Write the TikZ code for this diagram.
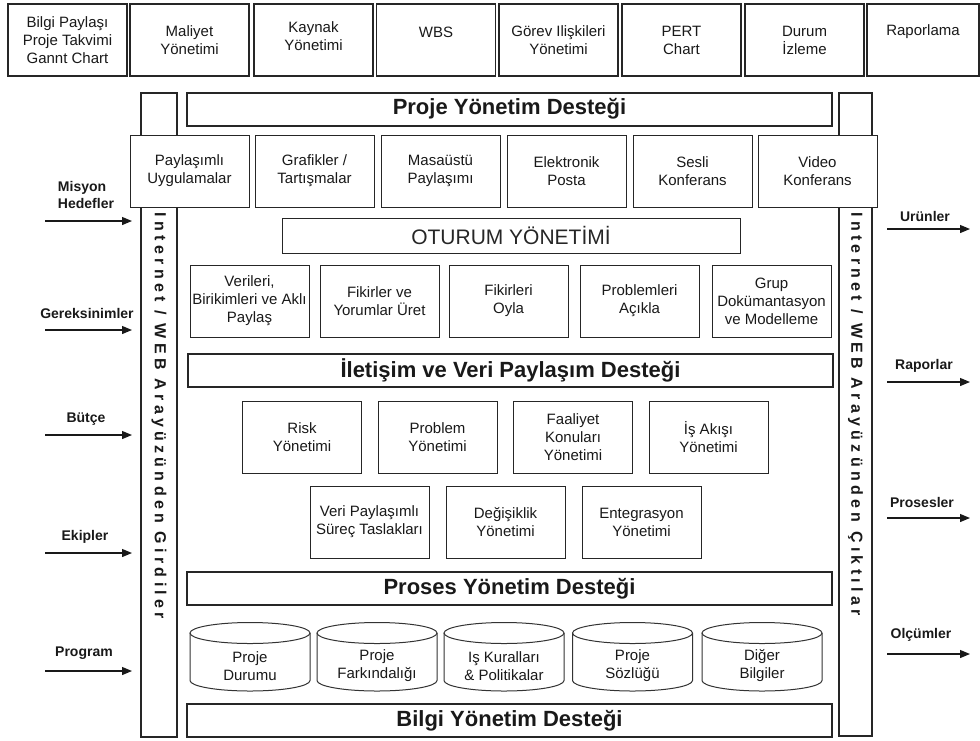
\documentclass[tikz,border=0pt]{standalone}
\usepackage{fontspec}
\setmainfont{Liberation Sans}
\newfontfamily\vfont{Liberation Sans}[LetterSpace=27]
\usetikzlibrary{arrows.meta}
\newcommand{\smallfs}{\fontsize{15}{18}\selectfont}
\newcommand{\barfs}{\bfseries\fontsize{22}{24}\selectfont}
\newcommand{\lblfs}{\bfseries\fontsize{14}{17}\selectfont}
\tikzset{
  box/.style={draw=black!85, line width=1pt, fill=white, minimum width=119pt, minimum height=72pt, align=center, font=\smallfs, inner sep=0pt, text=black!90},
  topbox/.style={box, line width=1.3pt},
  boxtext/.style={font=\smallfs, align=center, inner sep=0pt, text=black!90},
  bandbar/.style={draw=black!85, line width=2pt, fill=white, minimum width=645pt, minimum height=33pt, inner sep=0pt, font=\barfs, text=black!90},
  sidebar/.style={draw=black!85, line width=1.6pt, fill=white},
  vtext/.style={rotate=-90, font=\vfont\bfseries\fontsize{16}{16}\selectfont, text=black!90},
  lbl/.style={font=\lblfs, align=left, text=black!90, inner sep=0pt},
  arr/.style={line width=1.2pt, draw=black!90, -{Triangle[length=10pt,width=8pt]}},
  cyl/.style={draw=black!80, line width=1pt},
  cyltext/.style={font=\smallfs, align=center, text=black!90}
}
\begin{document}
\begin{tikzpicture}[x=1pt,y=-1pt]
\useasboundingbox (0,0) rectangle (980,740);
% top row
\node[topbox] (t1) at (67.5,40) {Bilgi Paylaşı\\Proje Takvimi\\Gannt Chart};
\node[topbox] (t2) at (189.5,40) {Maliyet\\Yönetimi};
\node[topbox] (t3) at (313.5,40) {};
\node[boxtext] (t3t) at (313.5,36) {Kaynak\\Yönetimi};
\node[topbox] (t4) at (436,40) {};
\node[boxtext] (t4t) at (436,32) {WBS};
\node[topbox] (t5) at (558.5,40) {Görev Ilişkileri\\Yönetimi};
\node[topbox] (t6) at (681.5,40) {PERT\\Chart};
\node[topbox] (t7) at (804.5,40) {Durum\\İzleme};
\node[topbox, minimum width=112pt] (t8) at (923,40) {};
\node[boxtext] (t8t) at (923,32) {Raporlama};
% side bars
\draw[sidebar] (141,93) rectangle (177,737);
\draw[sidebar] (839,93) rectangle (872,736);
% band bars
\node[bandbar] (pyd) at (509.5,109) {Proje Yönetim Desteği};
\node[bandbar] (ivp) at (510.5,370.5) {İletişim ve Veri Paylaşım Desteği};
\node[bandbar] (pro) at (509.5,588.5) {Proses Yönetim Desteği};
\node[bandbar] (bil) at (509.5,720.5) {Bilgi Yönetim Desteği};
% row 2
\node[box] (p1) at (189.5,171) {Paylaşımlı\\Uygulamalar};
\node[box] (p2) at (314.5,171) {Grafikler /\\Tartışmalar};
\node[box] (p3) at (440.5,171) {Masaüstü\\Paylaşımı};
\node[box] (p4) at (566.5,171) {Elektronik\\Posta};
\node[box] (p5) at (692.5,171) {Sesli\\Konferans};
\node[box] (p6) at (817.5,171) {Video\\Konferans};
% oturum
\node[draw=black!85, line width=1pt, minimum width=458pt, minimum height=35pt, inner sep=0pt, font=\fontsize{21}{24}\selectfont, text=black!85] (otu) at (511,235.5) {OTURUM YÖNETİMİ};
% row 3
\node[box] (r1) at (249.5,301) {Verileri,\\Birikimleri ve Aklı\\Paylaş};
\node[box] (r2) at (379.5,301) {Fikirler ve\\Yorumlar Üret};
\node[box] (r3) at (508.5,301) {Fikirleri\\Oyla};
\node[box] (r4) at (639.5,301) {Problemleri\\Açıkla};
\node[box] (r5) at (771.5,301) {Grup\\Dokümantasyon\\ve Modelleme};
% row 4
\node[box] (s1) at (302,437) {Risk\\Yönetimi};
\node[box] (s2) at (437.5,437) {Problem\\Yönetimi};
\node[box] (s3) at (573,437) {Faaliyet\\Konuları\\Yönetimi};
\node[box] (s4) at (708.5,437) {İş Akışı\\Yönetimi};
% row 5
\node[box] (u1) at (369.5,522) {Veri Paylaşımlı\\Süreç Taslakları};
\node[box] (u2) at (505.5,522) {Değişiklik\\Yönetimi};
\node[box] (u3) at (641.5,522) {Entegrasyon\\Yönetimi};
% cylinders
\foreach \cx/\nm/\txt in {250/c1/{Proje\\Durumu}, 377/c2/{Proje\\Farkındalığı}, 504/c3/{Iş Kuralları\\\& Politikalar}, 632.5/c4/{Proje\\Sözlüğü}, 762/c5/{Diğer\\Bilgiler}}{
  \draw[cyl, fill=white] (\cx-60,633) -- (\cx-60,680.5) arc[start angle=180, end angle=360, x radius=60pt, y radius=10.5pt] -- (\cx+60,633);
  \draw[cyl] (\cx,633) ellipse [x radius=60pt, y radius=10.5pt];
  \node[cyltext] (\nm) at (\cx,666) {\txt};
}
% vertical texts
\node[vtext] (vin) at (159,416) {Internet / WEB Arayüzünden Girdiler};
\node[vtext] (vout) at (855.5,414) {Internet / WEB Arayüzünden Çıktılar};
% left labels and arrows
\node[lbl] (l1) at (86,194.5) {Misyon\\Hedefler};
\node[lbl] (l2) at (87,313) {Gereksinimler};
\node[lbl] (l3) at (86,419) {Bütçe};
\node[lbl] (l4) at (85,537) {Ekipler};
\node[lbl] (l5) at (84,653) {Program};
\foreach \i/\yy in {1/221, 2/330, 3/435, 4/553, 5/671}{
  \coordinate (la\i) at (45,\yy);
  \coordinate (lb\i) at (132,\yy);
  \draw[arr] (la\i) -- (lb\i);
}
% right labels and arrows
\node[lbl] (q1) at (925,216) {Urünler};
\node[lbl] (q2) at (924,366) {Raporlar};
\node[lbl] (q3) at (922,502) {Prosesler};
\node[lbl] (q4) at (921,635) {Olçümler};
\foreach \i/\yy in {1/229, 2/382, 3/518, 4/654}{
  \coordinate (ra\i) at (887,\yy);
  \coordinate (rb\i) at (970,\yy);
  \draw[arr] (ra\i) -- (rb\i);
}
\end{tikzpicture}
\end{document}
